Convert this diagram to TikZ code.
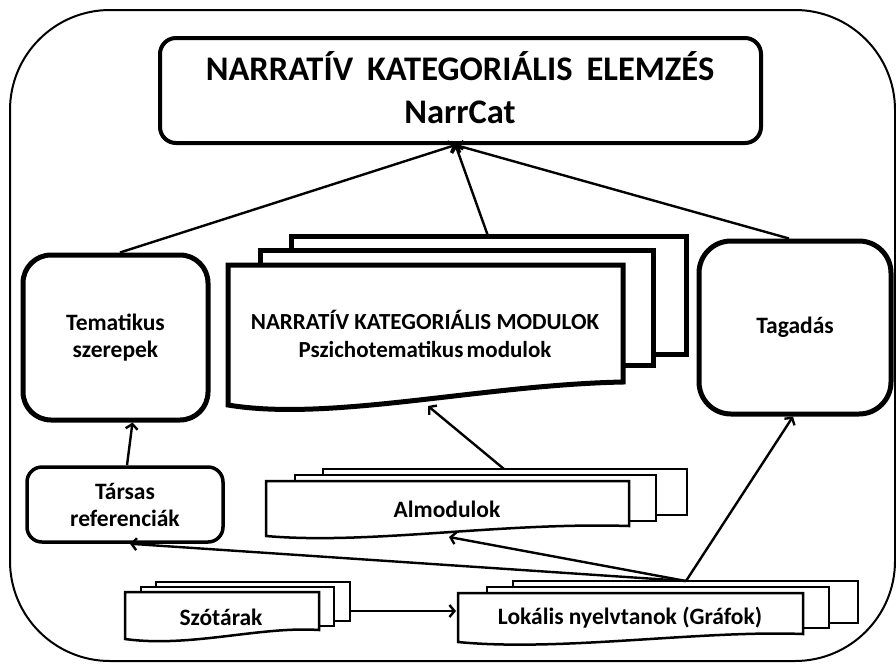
\documentclass[tikz,border=0pt]{standalone}
\usepackage{fontspec}
\setmainfont{Carlito}
\usetikzlibrary{arrows.meta}
\begin{document}
\begin{tikzpicture}[x=1pt,y=-1pt,
  arr/.style={line width=2.4pt,-{Straight Barb[length=5pt,width=12pt,line width=2.4pt]}},
  bigbox/.style={draw,line width=5pt,rounded corners=28pt,align=center,font=\fontsize{23.5}{27}\selectfont\bfseries,inner sep=0pt},
  txt/.style={align=center,font=\fontsize{23.5}{27}\selectfont\bfseries,inner sep=0pt},
  pagethick/.style={draw,fill=white,line width=5pt,line join=miter},
  pagethin/.style={draw,fill=white,line width=2.5pt,line join=miter}]
\useasboundingbox (0,0) rectangle (896,664);
\fill[white] (0,0) rectangle (896,664);
% outer frame
\draw[line width=2pt,rounded corners=100pt] (10,10) rectangle (895,661);
% title
\node[draw,line width=4pt,rounded corners=16pt,minimum width=601pt,minimum height=105pt,inner sep=0pt] (title) at (460.5,90.5) {};
\node[align=center,font=\fontsize{34.5}{43}\selectfont\bfseries,inner sep=0pt] (titletxt) at (460,88) {NARRATÍV\hspace{14pt}KATEGORIÁLIS\hspace{14pt}ELEMZÉS\\NarrCat};
% Tematikus
\node[bigbox,minimum width=185pt,minimum height=165pt] (tema) at (115.5,337.5) {Tematikus\\szerepek};
% Tagadas
\node[bigbox,rounded corners=32pt,minimum width=192pt,minimum height=173pt] (taga) at (795,327.5) {Tagadás};
% Tarsas
\node[draw,line width=3.5pt,rounded corners=15pt,minimum width=196pt,minimum height=75pt,align=center,font=\fontsize{23.5}{27}\selectfont\bfseries,inner sep=0pt] (tars) at (125,504.5) {Társas\\referenciák};
% NARRATIV modules (multi-document)
\draw[pagethick] (291,236) rectangle (686,354);
\draw[pagethick] (260,250) rectangle (653,365);
\draw[pagethick] (228,405) -- (228,265) -- (623,265) -- (623,382) .. controls (480,385) and (330,422) .. cycle;
\node[align=center,font=\fontsize{23}{28}\selectfont\bfseries,inner sep=0pt] (mod) at (425,334) {NARRATÍV KATEGORIÁLIS MODULOK\\Pszichotematikus\hspace{-2pt} modulok};
\coordinate (modtop) at (488,236);
\coordinate (modbot) at (428,406);
% Almodulok
\draw[pagethin] (323,469) rectangle (687,515);
\draw[pagethin] (295,475) rectangle (656,521);
\draw[pagethin] (266,536) -- (266,481) -- (629,481) -- (629,526) .. controls (500,522) and (370,545) .. cycle;
\node[txt] (almod) at (447,509) {Almodulok};
\coordinate (almodtop) at (504,469);
\coordinate (almodbot) at (449,537);
% Szotarak
\draw[pagethin] (156,582) rectangle (350,621);
\draw[pagethin] (141,587) rectangle (334,626);
\draw[pagethin] (125,639) -- (125,592) -- (319,592) -- (319,630) .. controls (260,626) and (190,648) .. cycle;
\node[txt] (szot) at (221,617) {Szótárak};
\coordinate (szotright) at (350,611);
% Lokalis
\draw[pagethin] (513,581) rectangle (858,623);
\draw[pagethin] (487,587) rectangle (829,628);
\draw[pagethin] (458,642) -- (458,593) -- (803,593) -- (803,634) .. controls (700,630) and (560,652) .. cycle;
\node[txt] (lok) at (630,618) {Lokális nyelvtanok (Gráfok)};
\coordinate (loktop) at (686,581);
\coordinate (lokleft) at (456,611);
\coordinate (titlein) at ([xshift=-5pt]title.south);
% connectors
\draw[arr] ([xshift=4.5pt]tema.north) -- (titlein);
\draw[arr] (modtop) -- (titlein);
\draw[arr] ([xshift=-6pt]taga.north) -- (titlein);
\draw[arr] (almodtop) -- (modbot);
\draw[arr] ([xshift=2pt]tars.north) -- ([xshift=17pt]tema.south);
\draw[arr] (szotright) -- (lokleft);
\draw[arr] (loktop) -- ([xshift=-2pt]taga.south);
\draw[arr] (loktop) -- (almodbot);
\draw[arr] (loktop) -- ([xshift=5pt]tars.south);
\end{tikzpicture}
\end{document}
